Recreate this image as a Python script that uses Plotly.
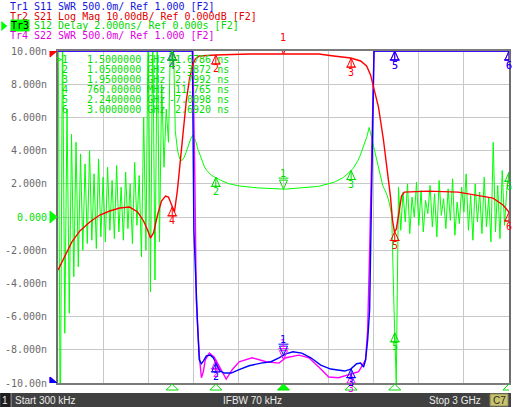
import numpy as np
import plotly.graph_objects as go

# ---------------- sweep / data ----------------
start_ghz = 0.0003
stop_ghz = 3.0
n_points = 201
freq_ghz = np.linspace(start_ghz, stop_ghz, n_points)

# Tr3  S12 group delay (ns), one value per sweep point
delay_ns = [
    14.0, -14.0, 12.0, -7.0, 6.5, -5.8, 5.0, -3.6, 4.5, -3.0,
    3.8, -2.0, 3.2, -1.6, 4.0, -1.4, 2.6, -1.9, 3.5, -1.2,
    2.4, -1.5, 3.0, -0.8, 2.2, -1.3, 3.1, -0.9, 1.8, -1.4,
    2.7, -0.7, 2.0, -1.6, 3.3, -0.5, 2.5, -2.4, 6.0, -2.0,
    12.0, -4.5, 12.0, -3.8, 11.0, -1.5, 8.0, 3.0, 6.5, 4.5,
    11.5, 12.0, 5.2, 4.0, 3.5, 3.4, 3.6, 4.0, 4.4, 4.75,
    4.95, 4.6, 4.1, 3.7, 3.3, 3.0, 2.8, 2.65, 2.52, 2.44,
    2.39, 2.30, 2.22, 2.15, 2.10, 2.05, 2.00, 1.96, 1.93, 1.90,
    1.88, 1.86, 1.84, 1.82, 1.80, 1.79, 1.78, 1.77, 1.76, 1.75,
    1.74, 1.73, 1.72, 1.71, 1.70, 1.70, 1.69, 1.69, 1.68, 1.68,
    1.68, 1.68, 1.69, 1.69, 1.70, 1.70, 1.71, 1.72, 1.73, 1.74,
    1.75, 1.77, 1.78, 1.80, 1.82, 1.84, 1.86, 1.89, 1.92, 1.95,
    1.99, 2.03, 2.08, 2.13, 2.19, 2.26, 2.34, 2.43, 2.54, 2.66,
    2.80, 2.95, 3.15, 3.40, 3.70, 4.05, 4.45, 4.85, 5.40, 4.80,
    4.10, 3.50, 2.90, 2.40, 1.90, 1.60, 1.30, 0.80, 0.10, -5.5,
    -10.0, 1.8, -0.8, 1.5, -0.3, 2.0, -1.0, 1.2, 0.0, 2.1,
    -0.5, 1.6, -0.9, 1.0, 0.2, 1.9, -0.6, 1.4, -1.2, 2.2,
    0.1, 1.1, -0.7, 1.7, -0.2, 2.3, -1.1, 0.9, -0.4, 1.8,
    0.3, 2.6, -0.8, 1.3, -1.4, 2.0, -0.3, 1.5, -1.0, 2.4,
    -0.6, 1.2, -1.5, 4.5, -0.9, 1.9, -1.3, 2.8, -0.5, 1.6,
    2.692,
]

# Tr2  S21 log magnitude (dB)
s21_freq_ghz = [0.0003, 0.0265, 0.053, 0.0927, 0.1457,
                0.2119, 0.2781, 0.3443, 0.4106, 0.4768,
                0.5298, 0.5695, 0.596, 0.6158, 0.6357,
                0.6622, 0.6887, 0.7152, 0.735, 0.7549,
                0.7748, 0.7946, 0.8145, 0.834, 0.854,
                0.874, 0.894, 0.914, 0.940, 1.046,
                1.271, 1.503, 1.735, 1.834, 1.947,
                2.013, 2.053, 2.079, 2.099, 2.132,
                2.165, 2.192, 2.212, 2.225, 2.238,
                2.251, 2.265, 2.285, 2.304, 2.463,
                2.662, 2.794, 2.894, 2.960, 3.0]
s21_db = [-66.0, -63.6, -61.4, -57.5, -54.2,
          -51.5, -49.4, -48.2, -47.3, -47.0,
          -48.5, -51.2, -53.9, -56.3, -54.8,
          -49.4, -45.2, -43.7, -44.0, -46.4,
          -48.5, -41.9, -32.8, -23.8, -14.8,
          -8.7, -4.5, -2.4, -1.5, -1.2,
          -0.9, -0.9, -0.9, -1.5, -2.1,
          -3.0, -4.5, -7.2, -11.1, -16.9,
          -26.8, -35.8, -44.0, -50.9, -54.5,
          -53.6, -49.4, -43.7, -42.5, -42.2,
          -42.5, -43.4, -44.3, -46.4, -48.5]

# Tr1  S11 SWR (values above 6 shown clipped at the top)
s11_freq_ghz = [0.0003, 0.894, 0.904, 0.920, 0.930,
                0.940, 0.954, 0.967, 0.987, 1.013,
                1.033, 1.053, 1.079, 1.106, 1.152,
                1.205, 1.271, 1.351, 1.417, 1.470,
                1.516, 1.563, 1.622, 1.682, 1.748,
                1.814, 1.907, 1.947, 1.987, 2.013,
                2.033, 2.046, 2.060, 2.073, 2.083,
                2.089, 2.099, 2.102, 3.0]
s11_swr = [6.0, 6.0, 3.30, 2.25, 1.80,
           1.35, 1.29, 1.33, 1.41, 1.42,
           1.38, 1.29, 1.18, 1.15, 1.15,
           1.20, 1.26, 1.30, 1.32, 1.38,
           1.44, 1.47, 1.45, 1.38, 1.27,
           1.21, 1.18, 1.21, 1.29, 1.30,
           1.24, 1.35, 1.65, 2.10, 3.30,
           4.55, 5.26, 6.0, 6.0]

# Tr4  S22 SWR
s22_freq_ghz = [0.0003, 0.897, 0.911, 0.920, 0.927,
                0.940, 0.954, 0.967, 0.980, 1.007,
                1.040, 1.086, 1.119, 1.159, 1.205,
                1.291, 1.384, 1.470, 1.516, 1.603,
                1.669, 1.735, 1.801, 1.867, 1.934,
                2.000, 2.046, 2.060, 2.073, 2.086,
                2.102, 3.0]
s22_swr = [6.0, 6.0, 4.01, 2.25, 1.95,
           1.42, 1.08, 1.17, 1.35, 1.45,
           1.39, 1.20, 1.06, 1.20, 1.32,
           1.38, 1.32, 1.30, 1.38, 1.42,
           1.38, 1.24, 1.09, 1.08, 1.12,
           1.17, 1.35, 1.80, 3.00, 4.50,
           6.0, 6.0]

# markers (coupled on all traces; table shows the active trace Tr3)
marker_names = ["1", "2", "3", "4", "5", "6"]
marker_freq_ghz = [1.5, 1.05, 1.95, 0.76, 2.24, 3.0]
marker_delay_ns = [1.6786, 2.3872, 2.7992, 11.765, -7.0098, 2.6920]
active_marker = "1"

# axis scales
delay_range = [-10, 10]
swr_range = [1, 6]
db_range = [-100, 0]
y_tick_values = [10, 8, 6, 4, 2, 0, -2, -4, -6, -8, -10]
y_tick_text = ["10.00n", "8.000n", "6.000n", "4.000n", "2.000n", "0.000",
               "-2.000n", "-4.000n", "-6.000n", "-8.000n", "-10.00n"]

header_ids = ["Tr1", "Tr2", "Tr3", "Tr4"]
header_rest = ["S11 SWR 500.0m/ Ref 1.000 [F2]",
               "S21 Log Mag 10.00dB/ Ref 0.000dB [F2]",
               "S12 Delay 2.000ns/ Ref 0.000s [F2]",
               "S22 SWR 500.0m/ Ref 1.000 [F2]"]
header_colors = ["#1414dc", "#e00000", "#00d800", "#dc00dc"]

status_left = "Start 300 kHz"
status_mid = "IFBW 70 kHz"
status_right = "Stop 3 GHz"
channel_no = "1"
status_tag = "C7"

# ---------------- styling ----------------
W, H = 513, 407
L, R, T, B = 58, 511, 51, 383
MONO = "DejaVu Sans Mono"
C_BLUE, C_RED, C_GREEN, C_MAG = "#0000ff", "#ff0000", "#00ff00", "#ff00ff"
C_TXTGREEN = "#00e000"


def PX(x):
    return (x - L) / (R - L)


def PY(y):
    return (B - y) / (B - T)


fig = go.Figure()
fig.add_trace(go.Scatter(x=freq_ghz, y=delay_ns, mode="lines", yaxis="y",
                         line=dict(color=C_GREEN, width=1), hoverinfo="skip"))
fig.add_trace(go.Scatter(x=s22_freq_ghz, y=s22_swr, mode="lines", yaxis="y2",
                         line=dict(color=C_MAG, width=1.4), hoverinfo="skip"))
fig.add_trace(go.Scatter(x=s11_freq_ghz, y=s11_swr, mode="lines", yaxis="y2",
                         line=dict(color=C_BLUE, width=1.4), hoverinfo="skip"))
fig.add_trace(go.Scatter(x=s21_freq_ghz, y=s21_db, mode="lines", yaxis="y3",
                         line=dict(color=C_RED, width=1.4), hoverinfo="skip"))

shapes = []
annotations = []

# y tick labels
for v, t in zip(y_tick_values, y_tick_text):
    col = C_TXTGREEN if v == 0 else "#6a6a6a"
    annotations.append(dict(x=0, xref="paper", y=v, yref="y", text=t, showarrow=False,
                            xanchor="right", yanchor="middle", xshift=-9,
                            font=dict(family=MONO, size=10, color=col)))

# reference level arrows on the left
for yref, val, col in [("y2", swr_range[0], C_MAG), ("y2", swr_range[0], C_BLUE),
                       ("y3", 0, C_RED), ("y", 0, C_GREEN)]:
    shapes.append(dict(type="path", xref="paper", yref=yref, xsizemode="pixel",
                       ysizemode="pixel", xanchor=0, yanchor=val,
                       path="M-1,0 L-8,6 L-8,-6 Z", fillcolor=col,
                       line=dict(color=col, width=1), layer="above"))


def add_markers(fx, fy, yref, rng, col):
    vals = np.interp(marker_freq_ghz, fx, fy)
    for name, f, v in zip(marker_names, marker_freq_ghz, vals):
        vc = min(max(v, rng[0]), rng[1])
        if name == active_marker:
            path = "M0,0 L-4,9 L4,9 Z M-5,11 L5,11"
            ysh = 16
        else:
            path = "M0,0 L-4,-9 L4,-9 Z M-5,-9 L5,-9 M0,0 L0,-9"
            ysh = -14
        shapes.append(dict(type="path", xref="x", yref=yref, xsizemode="pixel",
                           ysizemode="pixel", xanchor=f, yanchor=vc, path=path,
                           line=dict(color=col, width=1), layer="above"))
        annotations.append(dict(x=f, xref="x", y=vc, yref=yref, text=name,
                                showarrow=False, yshift=ysh, xanchor="center",
                                yanchor="middle",
                                font=dict(family=MONO, size=10, color=col)))


add_markers(s22_freq_ghz, s22_swr, "y2", swr_range, C_MAG)
add_markers(s11_freq_ghz, s11_swr, "y2", swr_range, C_BLUE)
add_markers(s21_freq_ghz, s21_db, "y3", db_range, C_RED)
add_markers(list(freq_ghz), delay_ns, "y", delay_range, "#00dd00")

# active-trace marker indicators below the x axis
for name, f in zip(marker_names, marker_freq_ghz):
    filled = name == active_marker
    shapes.append(dict(type="path", xref="x", yref="paper", xsizemode="pixel",
                       ysizemode="pixel", xanchor=f, yanchor=0,
                       path="M0,-1 L-6,-7 L6,-7 Z",
                       fillcolor=C_GREEN if filled else "rgba(0,0,0,0)",
                       line=dict(color="#00dd00", width=1), layer="above"))


# marker table
def fmt_freq(f):
    return f"{f*1000:.5f} MHz" if f < 1 else f"{f:.7f} GHz"


def fmt_val(v):
    ndig = len(str(int(abs(v))))
    return f"{v:.{5-ndig}f} ns"


for k, (name, f, v) in enumerate(zip(marker_names, marker_freq_ghz, marker_delay_ns)):
    yrow = 59.4 + k * 10.05
    lab = (">" + name) if name == active_marker else name
    for txt, xr in [(lab, 69), (fmt_freq(f), 166), (fmt_val(v), 231)]:
        annotations.append(dict(x=PX(xr), xref="paper", y=PY(yrow), yref="paper",
                                text=txt, showarrow=False, xanchor="right",
                                yanchor="middle", borderpad=0,
                                font=dict(family=MONO, size=10, color=C_TXTGREEN)))

# header lines
for k, (tid, rest, col) in enumerate(zip(header_ids, header_rest, header_colors)):
    yl = 6.8 + k * 9.45
    active = tid == "Tr3"
    annotations.append(dict(x=PX(9 if not active else 10), xref="paper", y=PY(yl), yref="paper",
                            text=tid, showarrow=False, xanchor="left", yanchor="middle",
                            borderpad=0, bgcolor=C_GREEN if active else None,
                            font=dict(family=MONO, size=10, color="#000000" if active else col)))
    annotations.append(dict(x=PX(9 + 4 * 6.08), xref="paper", y=PY(yl), yref="paper",
                            text=rest, showarrow=False, xanchor="left", yanchor="middle",
                            borderpad=0, font=dict(family=MONO, size=10, color=col)))
# active trace pointer
shapes.append(dict(type="path", xref="paper", yref="paper", xsizemode="pixel",
                   ysizemode="pixel", xanchor=PX(0), yanchor=PY(26),
                   path="M1,5 L7,0 L1,-5 Z", fillcolor=C_GREEN,
                   line=dict(color=C_GREEN, width=0)))

# status bar
shapes.append(dict(type="rect", xref="paper", yref="paper", x0=PX(0), x1=PX(513),
                   y0=PY(407), y1=PY(393), fillcolor="#404040", line=dict(width=0)))
shapes.append(dict(type="rect", xref="paper", yref="paper", x0=PX(0), x1=PX(10),
                   y0=PY(407), y1=PY(393), fillcolor="#1e1e1e", line=dict(width=0)))
shapes.append(dict(type="line", xref="paper", yref="paper", x0=PX(11), x1=PX(11),
                   y0=PY(407), y1=PY(393), line=dict(color="#8a8a8a", width=1)))
shapes.append(dict(type="rect", xref="paper", yref="paper", x0=PX(492), x1=PX(510),
                   y0=PY(406), y1=PY(394), fillcolor="#c9c26c", line=dict(color="#8a8a60", width=1)))
SB = dict(family="Liberation Sans", size=10, color="#ececec")
annotations.append(dict(x=PX(5), xref="paper", y=PY(400.5), yref="paper", text=channel_no,
                        showarrow=False, xanchor="center", yanchor="middle", borderpad=0, font=SB))
annotations.append(dict(x=PX(14), xref="paper", y=PY(400.5), yref="paper", text=status_left,
                        showarrow=False, xanchor="left", yanchor="middle", borderpad=0, font=SB))
annotations.append(dict(x=PX(253.5), xref="paper", y=PY(400.5), yref="paper", text=status_mid,
                        showarrow=False, xanchor="center", yanchor="middle", borderpad=0, font=SB))
annotations.append(dict(x=PX(484), xref="paper", y=PY(400.5), yref="paper", text=status_right,
                        showarrow=False, xanchor="right", yanchor="middle", borderpad=0, font=SB))
annotations.append(dict(x=PX(501), xref="paper", y=PY(400.5), yref="paper", text=status_tag,
                        showarrow=False, xanchor="center", yanchor="middle", borderpad=0,
                        font=dict(family="Liberation Sans", size=10, color="#2a2a2a")))

grid = "#c8c8c8"
fig.update_layout(
    width=W, height=H,
    margin=dict(l=L, r=W - R, t=T, b=H - B, pad=0),
    paper_bgcolor="white", plot_bgcolor="white",
    showlegend=False,
    xaxis=dict(range=[start_ghz, stop_ghz], tick0=start_ghz, dtick=(stop_ghz - start_ghz) / 10,
               showgrid=True, gridcolor=grid, gridwidth=1, zeroline=False,
               showticklabels=False, ticks="", showline=True, linecolor="#7a7a7a",
               linewidth=1.5, mirror=True, fixedrange=True),
    yaxis=dict(range=delay_range, dtick=2, showgrid=True, gridcolor=grid, gridwidth=1,
               zeroline=False, showticklabels=False, ticks="", showline=True,
               linecolor="#6e6e6e", linewidth=2, mirror=True, fixedrange=True),
    yaxis2=dict(range=swr_range, overlaying="y", visible=False, fixedrange=True),
    yaxis3=dict(range=db_range, overlaying="y", visible=False, fixedrange=True),
    shapes=shapes,
    annotations=annotations,
)

fig.write_html("out.html", config=dict(displayModeBar=False),
               post_script="document.body.style.margin='0px';document.body.style.overflow='hidden';")
